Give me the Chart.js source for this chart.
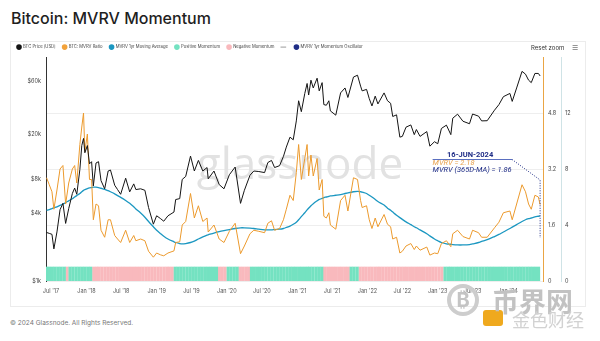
<!DOCTYPE html>
<html><head><meta charset="utf-8">
<script src="https://cdn.jsdelivr.net/npm/chart.js@4.4.1/dist/chart.umd.min.js"></script>
<style>
html,body{margin:0;padding:0;background:#fff;width:600px;height:341px;overflow:hidden;font-family:Inter,"Noto Sans",sans-serif;}
#title{position:absolute;left:11px;top:8px;font-size:16px;font-weight:500;color:#1f1f1f;white-space:nowrap;}
#card{position:absolute;left:10px;top:41px;width:576px;height:266px;border:1px solid #ececec;box-sizing:border-box;}
#wrap{position:absolute;left:10px;top:38px;width:575px;height:269px;}
#reset{position:absolute;left:531px;top:44px;font-size:6px;color:#333;white-space:nowrap;}
#menu{position:absolute;left:572px;top:43px;font-size:7px;color:#777;}
#footer{position:absolute;left:10px;top:319px;font-size:6.5px;color:#777;white-space:nowrap;}
#wm1{position:absolute;left:447px;top:284px;width:24px;height:24px;border:4px solid #cdcdcd;border-radius:50%;color:#c4c4c4;font-size:20px;font-weight:700;text-align:center;line-height:24px;}
#wm2{position:absolute;left:492px;top:281px;font-size:27px;font-weight:700;color:#c2c2c2;font-family:"Noto Sans CJK SC";white-space:nowrap;}
#wm3{position:absolute;left:483px;top:310px;width:20px;height:16px;background:#efa91e;border-radius:3px;}
#wm4{position:absolute;left:512px;top:306px;font-size:18px;color:#d2d2d2;font-family:"Noto Sans CJK SC";white-space:nowrap;}
</style></head>
<body>
<div id="title">Bitcoin: MVRV Momentum</div>
<div id="card"></div>
<div id="wrap"><canvas id="c" width="575" height="269"></canvas></div>
<div id="reset">Reset zoom</div>
<div id="menu">&#9776;</div>
<div id="footer">© 2024 Glassnode. All Rights Reserved.</div>
<div id="wm1">₿</div>
<div id="wm3"></div>
<div id="wm2">币界网</div>
<div id="wm4">金色财经</div>
<script>
// ---------------- DATA ----------------
const dates = [
'2017-06-08','2017-06-22','2017-07-06','2017-07-16','2017-08-01','2017-08-17','2017-09-01','2017-09-15','2017-10-01','2017-10-20',
'2017-11-01','2017-11-12','2017-11-28','2017-12-08','2017-12-17','2017-12-24','2018-01-06','2018-01-17','2018-01-28','2018-02-06',
'2018-02-20','2018-03-05','2018-03-18','2018-04-06','2018-04-24','2018-05-06','2018-05-28','2018-06-12','2018-06-28','2018-07-24',
'2018-08-14','2018-09-04','2018-09-15','2018-10-10','2018-11-01','2018-11-20','2018-12-15','2019-01-01','2019-01-20','2019-02-07',
'2019-03-01','2019-04-01','2019-04-10','2019-05-01','2019-05-14','2019-06-01','2019-06-26','2019-07-16','2019-08-06','2019-08-29',
'2019-09-20','2019-09-26','2019-10-26','2019-11-22','2019-12-17','2020-01-14','2020-02-13','2020-03-12','2020-04-01','2020-04-30',
'2020-05-20','2020-06-15','2020-07-15','2020-08-01','2020-08-20','2020-09-05','2020-10-01','2020-10-21','2020-11-05','2020-11-24',
'2020-12-11','2020-12-27','2021-01-08','2021-01-22','2021-02-09','2021-02-21','2021-03-01','2021-03-13','2021-03-25','2021-04-14',
'2021-04-25','2021-05-10','2021-05-19','2021-06-01','2021-06-14','2021-06-22','2021-07-20','2021-08-14','2021-09-06','2021-09-21',
'2021-10-20','2021-11-10','2021-11-26','2021-12-04','2021-12-27','2022-01-10','2022-01-24','2022-02-10','2022-02-24','2022-03-28',
'2022-04-15','2022-05-01','2022-05-12','2022-06-01','2022-06-18','2022-07-01','2022-07-20','2022-08-14','2022-09-01','2022-09-12',
'2022-10-01','2022-11-05','2022-11-21','2022-12-15','2023-01-01','2023-01-20','2023-02-15','2023-03-10','2023-03-20','2023-04-14',
'2023-05-12','2023-06-15','2023-07-01','2023-08-01','2023-08-17','2023-09-15','2023-10-23','2023-11-15','2023-12-08','2024-01-11',
'2024-01-23','2024-02-15','2024-03-14','2024-04-01','2024-04-17','2024-05-01','2024-05-20','2024-06-07','2024-06-16'
];
const btcPrice = [
2700,2650,2600,1930,2730,4300,4900,3250,4400,6000,
6700,5900,9800,16000,18500,13800,16000,11000,11500,7000,
11200,11500,7800,6600,9500,9700,7100,6500,5900,8200,
6200,7300,6500,6600,6400,4500,3200,3800,3600,3400,
3800,4100,5300,5400,8000,8500,12900,9500,11800,9500,
10200,8100,9500,7200,6600,8800,10300,4900,6400,8700,
9500,9400,9200,11300,11800,10200,10600,12800,15500,19000,
18000,26500,40000,32000,46500,57000,45000,61000,52000,63500,
49000,58000,37000,36500,40000,32500,29800,47000,52000,42800,
65000,67500,54000,49000,50500,41800,36000,44000,37500,47000,
40000,38000,29000,30000,19000,19300,23300,24400,20000,22200,
19300,21300,15800,17300,16600,22700,24300,20000,28000,30400,
26300,25000,30500,29200,26500,26600,33000,37000,43500,46500,
39500,52000,73000,69000,61000,58000,70000,70000,66500
];
const mvrvRatio = [
2.95,2.75,2.55,2.05,2.6,3.2,3.3,2.2,2.8,3.2,
3.3,2.8,3.9,4.4,4.8,3.7,4.2,2.9,2.9,1.75,
2.2,2.15,1.45,1.25,1.75,1.75,1.3,1.2,1.1,1.45,
1.1,1.3,1.15,1.2,1.15,0.85,0.68,0.8,0.75,0.72,
0.8,0.86,1.1,1.12,1.6,1.7,2.5,1.8,2.15,1.7,
1.8,1.4,1.6,1.2,1.1,1.42,1.65,0.78,1.0,1.35,
1.45,1.42,1.38,1.65,1.72,1.45,1.5,1.75,2.05,2.45,
2.3,3.1,3.9,2.9,3.5,3.9,3.0,3.6,3.0,3.5,
2.6,2.9,1.85,1.8,1.95,1.6,1.48,2.3,2.45,2.0,
2.95,2.9,2.3,2.1,2.15,1.75,1.5,1.8,1.55,1.9,
1.62,1.55,1.2,1.25,0.8,0.85,1.0,1.07,0.9,1.0,
0.88,0.97,0.74,0.8,0.78,1.07,1.15,0.98,1.35,1.45,
1.27,1.2,1.45,1.38,1.25,1.25,1.52,1.68,1.95,2.0,
1.75,2.2,2.75,2.55,2.2,2.05,2.45,2.4,2.18
];
const mvrvMA = [
2.02,2.04,2.07,2.09,2.12,2.16,2.2,2.24,2.29,2.35,
2.4,2.44,2.5,2.55,2.59,2.61,2.64,2.66,2.67,2.68,
2.68,2.67,2.65,2.62,2.58,2.55,2.49,2.44,2.39,2.3,
2.22,2.12,2.06,1.94,1.82,1.7,1.55,1.45,1.36,1.28,
1.2,1.12,1.1,1.07,1.06,1.07,1.1,1.14,1.2,1.26,
1.31,1.32,1.37,1.41,1.44,1.47,1.5,1.52,1.52,1.51,
1.5,1.48,1.46,1.46,1.46,1.47,1.48,1.5,1.53,1.57,
1.62,1.68,1.75,1.84,1.95,2.03,2.08,2.15,2.21,2.29,
2.33,2.36,2.38,2.4,2.42,2.43,2.45,2.47,2.5,2.52,
2.55,2.56,2.55,2.54,2.5,2.45,2.4,2.33,2.27,2.17,
2.08,2.02,1.97,1.88,1.81,1.76,1.69,1.61,1.55,1.52,
1.46,1.35,1.29,1.2,1.15,1.1,1.06,1.05,1.04,1.03,
1.03,1.04,1.06,1.1,1.13,1.18,1.27,1.33,1.4,1.5,
1.54,1.61,1.7,1.75,1.78,1.8,1.83,1.85,1.86
];
// momentum sign per half-month, starting June 2017 (1 = positive, -1 = negative)
const momentum = [
 1,1, 1,1, 1,1, 1,-1, 1,1, 1,1, 1,1,                               // 2017 Jun-Dec
 1,1, -1,-1, -1,-1, -1,-1, -1,-1, -1,-1, -1,-1, -1,-1, -1,-1, -1,-1, -1,-1, -1,-1, // 2018
 -1,-1, -1,-1, -1,-1, 1,1, 1,1, 1,1, 1,1, 1,1, 1,1, 1,1, 1,-1, -1,-1,             // 2019
 1,1, 1,1, -1,-1, -1,-1, 1,1, 1,1, 1,1, 1,1, 1,1, 1,1, 1,1, 1,1,                 // 2020
 1,1, 1,1, 1,1, 1,1, 1,-1, -1,-1, -1,-1, -1,-1, -1,-1, 1,1, 1,-1, -1,-1,          // 2021
 -1,-1, -1,-1, -1,-1, -1,-1, -1,-1, -1,-1, -1,-1, -1,-1, -1,-1, -1,-1, -1,-1, -1,-1, // 2022
 -1,-1, 1,1, 1,1, 1,1, 1,1, 1,1, 1,1, 1,1, 1,1, 1,1, 1,1, 1,1,                   // 2023
 1,1, 1,1, 1,1, 1,1, 1,1, 1                                                        // 2024 Jan-Jun
];
const priceTicks = [1000, 4000, 8000, 20000, 60000];
const priceTickLabels = ['$1k', '$4k', '$8k', '$20k', '$60k'];
const mvrvGridTicks = [0, 0.8, 1.6, 2.4, 3.2, 4.0, 4.8, 5.6, 6.4];
const mvrvTickLabels = ['0', '', '1.6', '', '3.2', '', '4.8', '', ''];
const oscTicks = [0, 4, 8, 12];
const oscTickLabels = ['0', '4', '8', '12'];
const xTickDates = ['2017-07-01','2018-01-01','2018-07-01','2019-01-01','2019-07-01','2020-01-01','2020-07-01',
                    '2021-01-01','2021-07-01','2022-01-01','2022-07-01','2023-01-01','2023-07-01','2024-01-01'];
const xTickLabels = ["Jul '17","Jan '18","Jul '18","Jan '19","Jul '19","Jan '20","Jul '20",
                     "Jan '21","Jul '21","Jan '22","Jul '22","Jan '23","Jul '23","Jan '24"];
const legendLabels = ['BTC Price [USD]', 'BTC: MVRV Ratio', 'MVRV 1yr Moving Average', 'Positive Momentum', 'Negative Momentum', '', 'MVRV 1yr Momentum Oscillator'];
const annoDate = '2024-06-16';
const annoTitle = '16-JUN-2024';
const annoLine1 = 'MVRV = 2.18';
const annoLine2 = 'MVRV (365D-MA) = 1.86';

// ---------------- STYLE ----------------
const C_PRICE = '#141414', C_MVRV = '#ec9a2d', C_MA = '#1b97c1', C_POS = '#74e2c1', C_NEG = '#f9b9bd', C_NAVY = '#1f2d86';
const legendColors = [C_PRICE, '#f2a23a', C_MA, C_POS, C_NEG, '#9a9a9a', C_NAVY];

Chart.defaults.font.family = 'Inter, "Noto Sans", sans-serif';

const momentumX = momentum.map((_, i) => {
  const m = 5 + Math.floor(i / 2);
  return Date.UTC(2017 + Math.floor(m / 12), m % 12, i % 2 ? 23 : 8);
});

const watermark = {
  id: 'wm',
  beforeDatasetsDraw(chart) {
    const {ctx, chartArea: a} = chart;
    ctx.save();
    ctx.font = '400 44px "Open Sans", sans-serif';
    ctx.fillStyle = '#e2e2e2';
    ctx.textAlign = 'center';
    ctx.textBaseline = 'middle';
    ctx.fillText('glassnode', a.left + a.width * 0.511, a.top + a.height * 0.49);
    ctx.restore();
  }
};

const annotation = {
  id: 'anno',
  afterDatasetsDraw(chart) {
    const {ctx, scales: {x}} = chart;
    const px = x.getPixelForValue(Date.parse(annoDate));
    const left = px - 107.5;
    ctx.save();
    ctx.textBaseline = 'middle';
    ctx.fillStyle = C_NAVY;
    ctx.font = '700 7.5px Roboto, sans-serif';
    ctx.textAlign = 'center';
    ctx.fillText(annoTitle, px - 70, 117.5);
    ctx.strokeStyle = '#5a6fc0';
    ctx.lineWidth = 1;
    ctx.beginPath(); ctx.moveTo(left, 121.5); ctx.lineTo(px - 28, 121.5); ctx.stroke();
    ctx.textAlign = 'left';
    ctx.font = 'italic 400 7.5px Roboto, sans-serif';
    ctx.fillStyle = '#e8a24e';
    ctx.fillText(annoLine1, left, 125);
    ctx.fillStyle = C_NAVY;
    ctx.fillText(annoLine2, left, 132.5);
    ctx.setLineDash([1, 1.5]);
    ctx.strokeStyle = C_NAVY;
    ctx.beginPath(); ctx.moveTo(px - 28, 121.5); ctx.lineTo(px, 142); ctx.lineTo(px, 200); ctx.stroke();
    ctx.restore();
  }
};

new Chart(document.getElementById('c'), {
  data: {
    datasets: [
      {type: 'line', label: legendLabels[0], yAxisID: 'y', order: 1,
       data: dates.map((d, i) => ({x: Date.parse(d), y: btcPrice[i]})),
       borderColor: C_PRICE, borderWidth: 1, pointRadius: 0, tension: 0},
      {type: 'line', label: legendLabels[1], yAxisID: 'y1', order: 2,
       data: dates.map((d, i) => ({x: Date.parse(d), y: mvrvRatio[i]})),
       borderColor: C_MVRV, borderWidth: 1, pointRadius: 0, tension: 0},
      {type: 'line', label: legendLabels[2], yAxisID: 'y1', order: 3,
       data: dates.map((d, i) => ({x: Date.parse(d), y: mvrvMA[i]})),
       borderColor: C_MA, borderWidth: 1.3, pointRadius: 0, tension: 0.3},
      {type: 'bar', label: legendLabels[3], yAxisID: 'y2', order: 10, grouped: false,
       data: momentumX.map((x, i) => ({x, y: momentum[i] > 0 ? 1 : null})),
       backgroundColor: C_POS, barPercentage: 1, categoryPercentage: 1},
      {type: 'bar', label: legendLabels[4], yAxisID: 'y2', order: 10, grouped: false,
       data: momentumX.map((x, i) => ({x, y: momentum[i] < 0 ? 1 : null})),
       backgroundColor: C_NEG, barPercentage: 1, categoryPercentage: 1}
    ]
  },
  options: {
    responsive: false, animation: false, devicePixelRatio: 1,
    layout: {padding: 0},
    plugins: {
      tooltip: {enabled: false},
      legend: {
        display: true, position: 'top', align: 'start', maxHeight: 19,
        labels: {
          usePointStyle: true, boxWidth: 4, boxHeight: 4, padding: 7,
          font: {size: 4.2}, color: '#444',
          generateLabels: () => legendLabels.map((t, i) => ({
            text: t, fillStyle: legendColors[i], strokeStyle: legendColors[i], lineWidth: i === 5 ? 1 : 0,
            pointStyle: i === 5 ? 'line' : 'circle', hidden: false, datasetIndex: i, fontColor: '#444'
          }))
        }
      }
    },
    scales: {
      x: {
        type: 'linear', offset: false, min: Date.parse('2017-06-05'), max: Date.parse('2024-07-01'),
        grid: {display: false, drawTicks: false, offset: false}, border: {display: false},
        afterBuildTicks: s => { s.ticks = xTickDates.map(d => ({value: Date.parse(d)})); },
        ticks: {autoSkip: false, maxRotation: 0, padding: 7, color: '#555', font: {size: 5.5},
                callback: (v, i) => xTickLabels[i]},
        afterFit: s => { s.height = 26; }
      },
      y: {
        type: 'logarithmic', position: 'left', min: 1000, max: 98000,
        grid: {display: false, drawTicks: false}, border: {display: true, color: '#333', width: 1},
        afterBuildTicks: s => { s.ticks = priceTicks.map(v => ({value: v})); },
        ticks: {padding: 5, color: '#444', font: {size: 5.5}, callback: (v, i) => priceTickLabels[i]},
        afterFit: s => { s.width = 36; }
      },
      y1: {
        type: 'linear', position: 'right', min: 0, max: 6.4,
        grid: {display: true, drawTicks: false, color: '#eeeeee', lineWidth: 1}, border: {display: true, color: '#eaa544', width: 1},
        afterBuildTicks: s => { s.ticks = mvrvGridTicks.map(v => ({value: v})); },
        ticks: {padding: 5, color: '#444', font: {size: 5.5}, callback: (v, i) => mvrvTickLabels[i] || null},
        afterFit: s => { s.width = 18; }
      },
      y2: {
        type: 'linear', position: 'right', min: 0, max: 16,
        grid: {display: false, drawTicks: false}, border: {display: true, color: '#cfe3e6', width: 1},
        afterBuildTicks: s => { s.ticks = oscTicks.map(v => ({value: v})); },
        ticks: {padding: 4, color: '#444', font: {size: 5.5}, callback: (v, i) => oscTickLabels[i]},
        afterFit: s => { s.width = 24; }
      }
    }
  },
  plugins: [watermark, annotation]
});
</script>
</body></html>
